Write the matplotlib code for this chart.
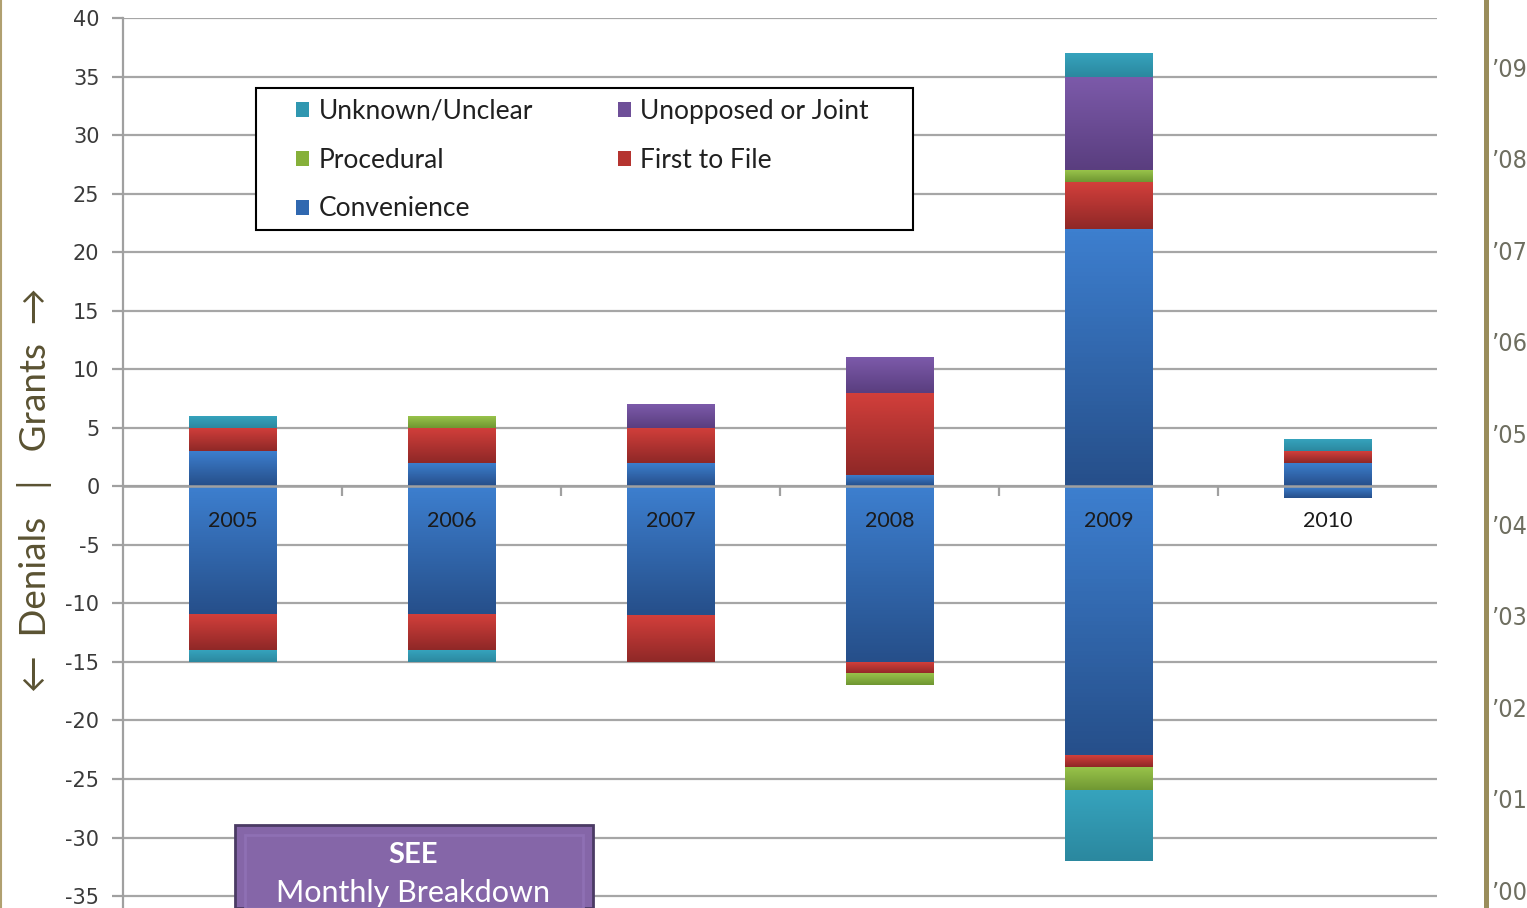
import numpy as np
import matplotlib.pyplot as plt
from matplotlib.colors import LinearSegmentedColormap
from matplotlib.patches import Rectangle
from matplotlib.lines import Line2D

plt.rcParams["axes.unicode_minus"] = False

years = ["2005", "2006", "2007", "2008", "2009", "2010"]
labels = ["Convenience", "First to File", "Procedural", "Unopposed or Joint", "Unknown/Unclear"]

# grants (above zero), stacked from the bottom up
conv_g = [3, 2, 2, 1, 22, 2]
ftf_g = [2, 3, 3, 7, 4, 1]
proc_g = [0, 1, 0, 0, 1, 0]
unop_g = [0, 0, 2, 3, 8, 0]
unk_g = [1, 0, 0, 0, 2, 1]

# denials (below zero), stacked downwards
conv_d = [11, 11, 11, 15, 23, 1]
ftf_d = [3, 3, 4, 1, 1, 0]
proc_d = [0, 0, 0, 1, 2, 0]
unop_d = [0, 0, 0, 0, 0, 0]
unk_d = [1, 1, 0, 0, 6, 0]

side_years = ["’09", "’08", "’07", "’06", "’05", "’04", "’03", "’02", "’01", "’00"]

# (mid, top, bottom) shades per series
colors = [
    ("#3068b0", "#3d7fcf", "#264f8a"),
    ("#b53430", "#d23f3b", "#8f2827"),
    ("#86b03a", "#98c34a", "#6f9632"),
    ("#6e4f98", "#7c5aaa", "#5a3e7f"),
    ("#3097b0", "#36a3bd", "#2b889f"),
]

fig = plt.figure(figsize=(15.27, 9.08), dpi=100)
ax = fig.add_axes([123 / 1527, 0, 1314 / 1527, 890 / 908])

x = np.arange(len(years))
grad = np.linspace(0, 1, 64).reshape(-1, 1)


def shade(bars, top, bottom):
    cmap = LinearSegmentedColormap.from_list("g", [bottom, top])
    for b in bars:
        h = b.get_height()
        if h == 0:
            continue
        x0, w, y0 = b.get_x(), b.get_width(), b.get_y()
        ax.imshow(grad, extent=[x0, x0 + w, min(y0, y0 + h), max(y0, y0 + h)],
                  origin="lower", cmap=cmap, aspect="auto", zorder=2.5)


handles = []
cum = np.zeros(len(years))
for vals, c in zip([conv_g, ftf_g, proc_g, unop_g, unk_g], colors):
    bars = ax.bar(x, vals, 0.4, bottom=cum, color=c[0], zorder=2)
    shade(bars, c[1], c[2])
    handles.append(bars)
    cum += np.array(vals)

cum = np.zeros(len(years))
for vals, c in zip([conv_d, ftf_d, proc_d, unop_d, unk_d], colors):
    bars = ax.bar(x, -np.array(vals), 0.4, bottom=-cum, color=c[0], zorder=2)
    shade(bars, c[1], c[2])
    cum += np.array(vals)

ax.set_xlim(-0.5, 5.5)
ax.set_ylim(-36.02, 40)
ax.set_yticks(range(-35, 41, 5))
ax.set_xticks([])
ax.grid(axis="y", color="#a6a6a6", lw=1.6, zorder=0)
ax.set_axisbelow(True)
for s in ["top", "right", "bottom"]:
    ax.spines[s].set_visible(False)
ax.spines["left"].set_color("#a0a0a0")
ax.spines["left"].set_linewidth(1.6)
ax.tick_params(axis="y", length=8, width=1.6, color="#a0a0a0",
               labelsize=15, labelcolor="#3a3a3a", pad=9)

# category axis at zero
ax.axhline(0, color="#a0a0a0", lw=1.8, zorder=4)
ax.vlines(np.arange(0.5, 5, 1), -0.85, 0, color="#a0a0a0", lw=1.6, zorder=4)
for i, yr in enumerate(years):
    ax.text(i, -3, yr, ha="center", va="center", fontsize=15.5,
            family="Lato", color="#1a1a1a", zorder=5)

# legend inside a plain black box
ax.add_patch(Rectangle((0.1012, 0.7618), 0.4998, 0.1595, transform=ax.transAxes,
                       facecolor="white", edgecolor="black", lw=1.5, zorder=6))
order = [4, 2, 0, 3, 1]
leg = ax.legend([handles[i] for i in order], [labels[i] for i in order],
                ncol=2, loc="upper left", bbox_to_anchor=(0.1317, 0.909),
                frameon=False, borderpad=0, borderaxespad=0,
                prop={"family": "Lato", "size": 19},
                handlelength=0.5, handleheight=0.5, handletextpad=0.36,
                labelspacing=0.9, columnspacing=3.2)
leg.set_zorder(7)
for t in leg.get_texts():
    t.set_color("#202020")

# side decorations
fig.text(35 / 1527, 1 - 490 / 908, "←  Denials   |   Grants  →", rotation=90,
         ha="center", va="center", fontsize=26.5, color="#5a5232",
         family=["Lato", "DejaVu Sans"])
fig.add_artist(Line2D([1 / 1527] * 2, [0, 1], transform=fig.transFigure,
                      color="#b0a070", lw=1.5))
fig.add_artist(Line2D([1485.5 / 1527] * 2, [0, 1], transform=fig.transFigure,
                      color="#9a8d5b", lw=3.6))
for i, lab in enumerate(side_years):
    fig.text(1509 / 1527, 1 - (70 + i * 91.4) / 908, lab, ha="center", va="center",
             fontsize=18, fontstretch="condensed", color="#6e6e60")

# button
fig.add_artist(Rectangle((235 / 1527, 0), 358 / 1527, 83 / 908, transform=fig.transFigure,
                         facecolor="#8566a8", edgecolor="#4b3b64", lw=2, zorder=5))
fig.add_artist(Rectangle((245 / 1527, 0), 338 / 1527, 73 / 908, transform=fig.transFigure,
                         facecolor="none", edgecolor="#8e70b4", lw=2, zorder=5))
fig.text(413 / 1527, 1 - 855 / 908, "SEE", ha="center", va="center", fontsize=21,
         fontweight="bold", family="Lato", color="white", zorder=6)
fig.text(413 / 1527, 1 - 893 / 908, "Monthly Breakdown", ha="center", va="center",
         fontsize=22, family="Lato", color="white", zorder=6)

fig.savefig("out.png", dpi=100)
